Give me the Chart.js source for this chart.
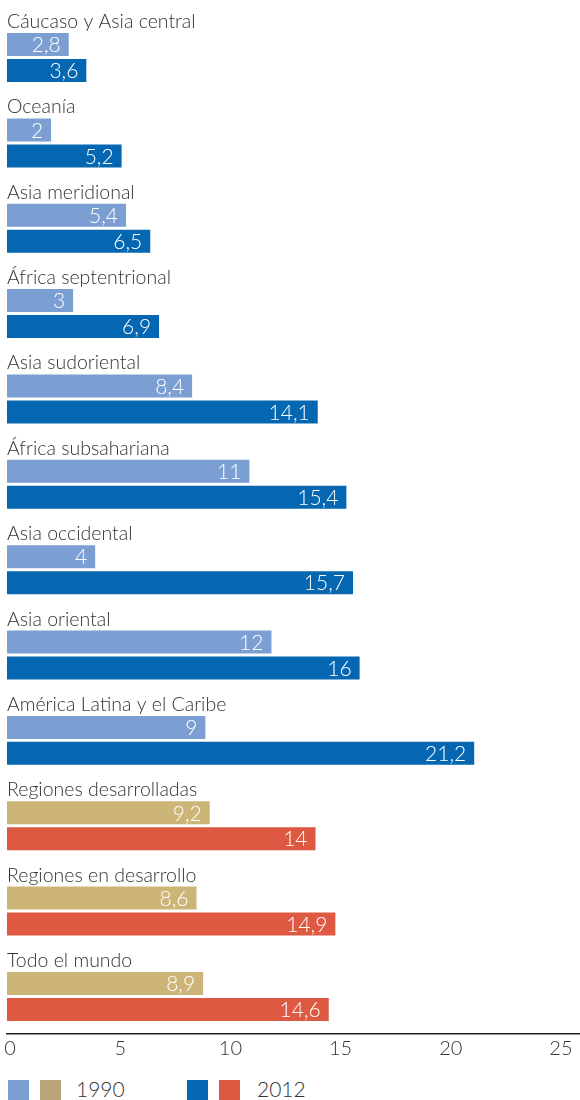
<!DOCTYPE html>
<html>
<head>
<meta charset="utf-8">
<script src="https://cdn.jsdelivr.net/npm/chart.js@4"></script>
<style>
  body { margin: 0; background: #fff; width: 580px; height: 1100px; overflow: hidden; position: relative; font-family: Lato, sans-serif; font-weight: 300; color: #333; }
  #chart { position: absolute; left: 0; top: 0; }
  .sw { position: absolute; top: 1080px; width: 21px; height: 21px; }
  .lt { position: absolute; top: 1076px; font-size: 21px; line-height: 26px; }
</style>
</head>
<body>
<canvas id="chart" width="580" height="1070"></canvas>

<div class="sw" style="left:8px;background:#7c9fd3"></div>
<div class="sw" style="left:40px;background:#bba67a"></div>
<div class="lt" style="left:76px">1990</div>
<div class="sw" style="left:187px;background:#0468b3"></div>
<div class="sw" style="left:219px;background:#dd5841"></div>
<div class="lt" style="left:257px">2012</div>

<script>
Chart.defaults.font.family = 'Lato'
Chart.defaults.font.weight = 300
Chart.defaults.color = '#333'

const categories = ['Cáucaso y Asia central', 'Oceanía', 'Asia meridional', 'África septentrional', 'Asia sudoriental',
    'África subsahariana', 'Asia occidental', 'Asia oriental', 'América Latina y el Caribe',
    'Regiones desarrolladas', 'Regiones en desarrollo', 'Todo el mundo']
const values1990 = [2.8, 2, 5.4, 3, 8.4, 11, 4, 12, 9, 9.2, 8.6, 8.9]
const values2012 = [3.6, 5.2, 6.5, 6.9, 14.1, 15.4, 15.7, 16, 21.2, 14, 14.9, 14.6]
const xTicks = [0, 5, 10, 15, 20, 25]

// the last three rows are the aggregates, drawn in other colours
const firstAggregate = 9

function fmt(v) {
    return String(v).replace('.', ',')
}

// category name above each pair of bars, value inside the end of each bar
const labelsPlugin = {
    id: 'labels',
    afterDatasetsDraw(chart) {
        const ctx = chart.ctx
        ctx.save()

        const first = chart.getDatasetMeta(0).data
        ctx.font = '300 19.5px Lato'
        ctx.fillStyle = '#333'
        ctx.textAlign = 'left'
        ctx.textBaseline = 'alphabetic'
        first.forEach((bar, i) => {
            const top = bar.y - bar.height / 2
            ctx.fillText(categories[i], chart.chartArea.left, top - 5)
        })

        ctx.font = '300 21px Lato'
        ctx.fillStyle = '#fff'
        ctx.textAlign = 'right'
        ctx.textBaseline = 'middle'
        chart.data.datasets.forEach((ds, d) => {
            chart.getDatasetMeta(d).data.forEach((bar, i) => {
                ctx.fillText(fmt(ds.data[i].x), bar.x - 8, bar.y + 1)
            })
        })
        ctx.restore()
    }
}

const data = {
    datasets: [
        {
            label: '1990',
            data: values1990.map((v, i) => ({ x: v, y: i })),
            backgroundColor: ctx => ctx.dataIndex >= firstAggregate ? '#ccb577' : '#7b9fd2'
        },
        {
            label: '2012',
            data: values2012.map((v, i) => ({ x: v, y: i })),
            backgroundColor: ctx => ctx.dataIndex >= firstAggregate ? '#dd5941' : '#0567b2'
        }
    ]
}

const options = {
    responsive: false,
    animation: false,
    indexAxis: 'y',
    categoryPercentage: 0.609,
    barPercentage: 0.885,
    layout: { padding: { left: 7, right: 0, top: 0, bottom: 0 } },
    plugins: {
        legend: { display: false },
        tooltip: { enabled: false }
    },
    scales: {
        y: {
            type: 'linear',
            reverse: true,
            offset: false,
            min: -0.674,
            max: 11.44,
            display: false,
            afterBuildTicks: s => { s.ticks = categories.map((c, i) => ({ value: i })) }
        },
        x: {
            type: 'linear',
            min: 0,
            max: 26,
            grid: { display: false },
            border: { display: true, color: '#222', width: 1.5 },
            afterBuildTicks: s => { s.ticks = xTicks.map(v => ({ value: v })) },
            afterFit: s => { s.height = 36 },
            ticks: {
                padding: -5,
                labelOffset: 3,
                font: { size: 20, weight: 300 },
                color: '#333'
            }
        }
    }
}

new Chart('chart', { type: 'bar', data, options, plugins: [labelsPlugin] })
</script>
</body>
</html>
